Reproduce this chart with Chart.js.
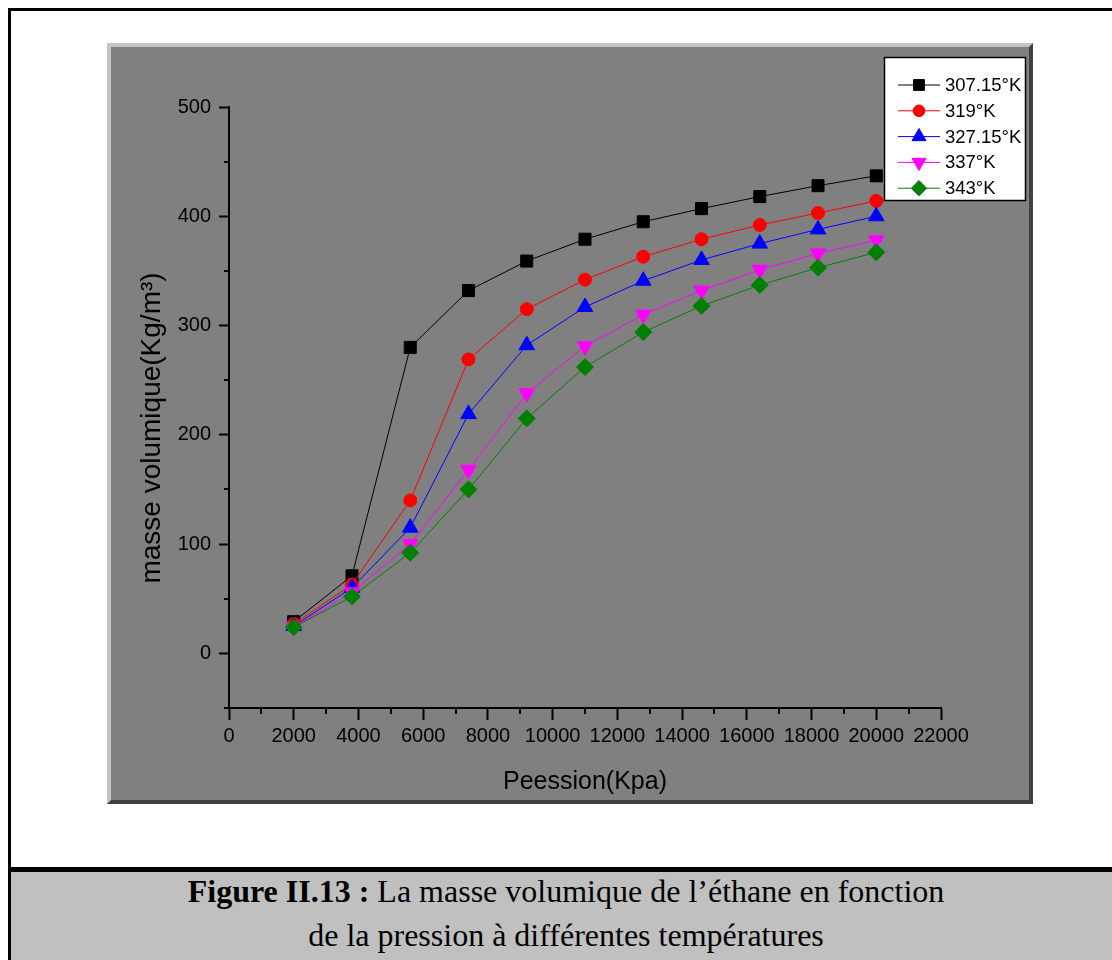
<!DOCTYPE html>
<html>
<head>
<meta charset="utf-8">
<script src="https://cdn.jsdelivr.net/npm/chart.js@4.4.1/dist/chart.umd.min.js"></script>
<style>
html,body{margin:0;padding:0;background:#fff;}
body{width:1112px;height:960px;overflow:hidden;position:relative;}
#frame{position:absolute;left:8px;top:8px;width:1130px;height:990px;border:3px solid #000;box-sizing:border-box;}
#panel{position:absolute;left:107px;top:43px;width:926px;height:761px;background:#808080;
  border-top:4px solid #c4c4c4;border-left:4px solid #c4c4c4;border-right:4px solid #404040;border-bottom:4px solid #404040;box-sizing:border-box;}
#capbar{position:absolute;left:8px;top:867px;width:1130px;height:5px;background:#000;}
#capbg{position:absolute;left:11px;top:872px;width:1130px;height:100px;background:#c0c0c0;}
.cap{position:absolute;left:8px;width:1116px;text-align:center;font-family:"Liberation Serif","Times New Roman",serif;font-size:32px;line-height:44px;color:#000;white-space:nowrap;}
#chart{position:absolute;left:0;top:0;}
</style>
</head>
<body>
<div id="frame"></div>
<div id="panel"></div>
<div id="capbar"></div>
<div id="capbg"></div>
<div class="cap" style="top:869px;"><b>Figure II.13 :</b> La masse volumique de l’éthane en fonction</div>
<div class="cap" style="top:913px;">de la pression à différentes températures</div>
<canvas id="chart" width="1112" height="960"></canvas>
<script>
// ---- data ----
const pressure = [2000, 3800, 5600, 7400, 9200, 11000, 12800, 14600, 16400, 18200, 20000];
const rho30715 = [29, 71, 280, 332, 359, 379, 395, 407, 418, 428, 437];
const rho319   = [27, 63, 140, 269, 315, 342, 363, 379, 392, 403, 414];
const rho32715 = [25, 60, 115, 219, 282, 317, 341, 360, 375, 388, 400];
const rho337   = [24, 56, 100, 168, 238, 281, 310, 332, 351, 366, 378];
const rho343   = [24, 52, 92, 150, 215, 262, 294, 318, 337, 353, 367];
const seriesLabels = ['307.15°K', '319°K', '327.15°K', '337°K', '343°K'];
const xMinorTicks = [1000, 3000, 5000, 7000, 9000, 11000, 13000, 15000, 17000, 19000, 21000];
const yMinorTicks = [-50, 50, 150, 250, 350, 450];
const xTitle = 'Peession(Kpa)';
const yTitle = 'masse volumique(Kg/m³)';

const toXY = vals => pressure.map((p, i) => ({x: p, y: vals[i]}));

function ds(label, vals, color, style, radius, rotation, order) {
  return {
    label: label, data: toXY(vals), borderColor: color, backgroundColor: color,
    borderWidth: 1, pointStyle: style, pointRadius: radius, pointHoverRadius: radius,
    pointRotation: rotation, pointBorderColor: color, pointBackgroundColor: color,
    pointBorderWidth: 1, showLine: true, tension: 0, order: order
  };
}

const datasets = [
  ds(seriesLabels[0], rho30715, '#000000', 'rect', 8.5, 0, 5),
  ds(seriesLabels[1], rho319, '#ff0000', 'circle', 6.5, 0, 4),
  ds(seriesLabels[2], rho32715, '#0000ff', 'triangle', 9, 0, 3),
  ds(seriesLabels[3], rho337, '#ff00ff', 'triangle', 9, 180, 2),
  ds(seriesLabels[4], rho343, '#008000', 'rectRot', 8.5, 0, 1)
];

function drawMarker(ctx, opts, x, y) {
  if (Chart.helpers && Chart.helpers.drawPoint) {
    Chart.helpers.drawPoint(ctx, opts, x, y);
  } else {
    ctx.beginPath(); ctx.arc(x, y, opts.radius, 0, Math.PI * 2); ctx.fill();
  }
}

const extras = {
  id: 'extras',
  afterDraw(chart) {
    const ctx = chart.ctx;
    const xs = chart.scales.x, ys = chart.scales.y;
    ctx.save();
    // minor ticks
    ctx.strokeStyle = '#000'; ctx.lineWidth = 2;
    ctx.beginPath();
    xMinorTicks.forEach(v => {
      const px = Math.round(xs.getPixelForValue(v));
      ctx.moveTo(px, ys.bottom); ctx.lineTo(px, ys.bottom + 6);
    });
    yMinorTicks.forEach(v => {
      const py = Math.round(ys.getPixelForValue(v));
      ctx.moveTo(xs.left, py); ctx.lineTo(xs.left - 5, py);
    });
    ctx.stroke();
    // y title
    ctx.save();
    ctx.translate(152, 428);
    ctx.rotate(-Math.PI / 2);
    ctx.fillStyle = '#000';
    ctx.font = '28px "Liberation Sans", Arial, sans-serif';
    ctx.textAlign = 'center'; ctx.textBaseline = 'middle';
    ctx.fillText(yTitle, 0, 0);
    ctx.restore();
    // legend
    const lx = 884, ly = 57, lw = 142, lh = 144;
    ctx.fillStyle = '#fff';
    ctx.fillRect(lx, ly, lw, lh);
    ctx.strokeStyle = '#000'; ctx.lineWidth = 1.5;
    ctx.strokeRect(lx + 0.5, ly + 0.5, lw - 1, lh - 1);
    ctx.font = '18.5px "Liberation Sans", Arial, sans-serif';
    ctx.textBaseline = 'middle'; ctx.textAlign = 'left';
    chart.data.datasets.forEach((d, i) => {
      const y = 85 + i * 25.8;
      ctx.strokeStyle = d.borderColor; ctx.lineWidth = 1;
      ctx.beginPath(); ctx.moveTo(898, y); ctx.lineTo(940, y); ctx.stroke();
      ctx.fillStyle = d.pointBackgroundColor; ctx.strokeStyle = d.pointBorderColor;
      drawMarker(ctx, {pointStyle: d.pointStyle, rotation: d.pointRotation, radius: d.pointRadius * 0.9, borderWidth: 1}, 919, y);
      ctx.fillStyle = '#000';
      ctx.fillText(d.label, 945, y + 1);
    });
    ctx.restore();
  }
};

new Chart(document.getElementById('chart'), {
  type: 'scatter',
  data: {datasets: datasets},
  plugins: [extras],
  options: {
    responsive: false, animation: false, devicePixelRatio: 1, events: [],
    layout: {padding: {left: 107, top: 107, right: 171, bottom: 156}},
    plugins: {legend: {display: false}, tooltip: {enabled: false}},
    scales: {
      x: {
        type: 'linear', min: 0, max: 22000,
        afterFit: s => { s.height = 96; },
        ticks: {stepSize: 2000, color: '#000', padding: 4, maxRotation: 0, autoSkip: false,
          callback: v => String(v),
          font: {family: '"Liberation Sans", Arial, sans-serif', size: 20}},
        grid: {display: true, drawOnChartArea: false, drawTicks: true, tickLength: 12, tickColor: '#000', tickWidth: 2, color: '#000'},
        border: {display: true, color: '#000', width: 2},
        title: {display: true, text: xTitle, color: '#000', padding: {top: 0, bottom: 7},
          font: {family: '"Liberation Sans", Arial, sans-serif', size: 25}}
      },
      y: {
        type: 'linear', min: -50, max: 500,
        afterFit: s => { s.width = 122; },
        ticks: {stepSize: 100, includeBounds: false, color: '#000', padding: 8,
          callback: v => String(v),
          font: {family: '"Liberation Sans", Arial, sans-serif', size: 20}},
        grid: {display: true, drawOnChartArea: false, drawTicks: true, tickLength: 10, tickColor: '#000', tickWidth: 2, color: '#000'},
        border: {display: true, color: '#000', width: 2},
        title: {display: false}
      }
    }
  }
});
</script>
</body>
</html>
